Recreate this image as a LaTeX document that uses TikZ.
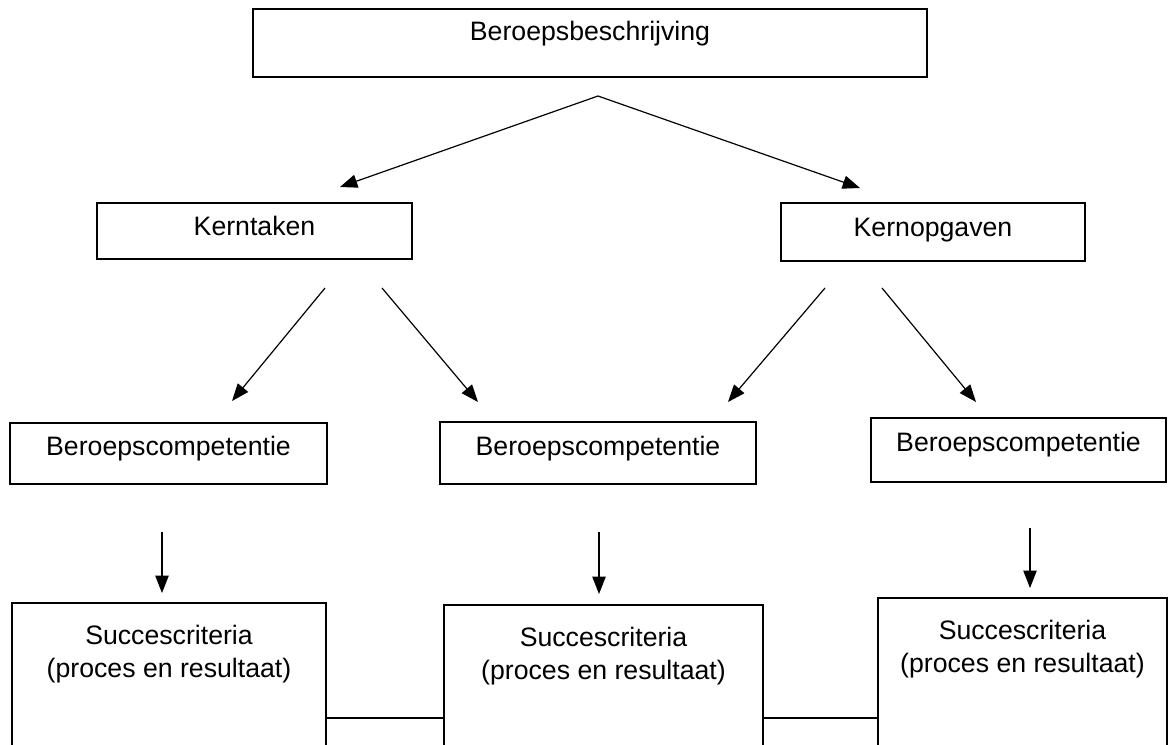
\documentclass[tikz,border=0pt]{standalone}
\usepackage{fontspec}
\setmainfont{Liberation Sans}
\usetikzlibrary{arrows.meta}

\begin{document}
\begin{tikzpicture}[x=0.75pt,y=-0.75pt,font=\fontsize{20}{25}\selectfont,line width=0.9pt,box/.style n args={2}{draw,line width=1.2pt,minimum width=#1*0.75pt,minimum height=#2*0.75pt,inner sep=0pt},txt/.style={anchor=base,inner sep=0pt,yshift=-#1*0.75pt},two/.style={anchor=north,inner sep=0pt,align=center,yshift=-#1*0.75pt},arr/.style={-{Triangle[length=13pt,width=10pt]}}]
    \useasboundingbox (0,0) rectangle (1176,744);
    \clip (0,0) rectangle (1176,744);
    \node[box={674}{68},label={[txt=32]north:Beroepsbeschrijving}] (beschrijving) at (590,43) {};
    \node[box={315}{56},label={[txt=33]north:Kerntaken}] (kerntaken) at (254.5,231) {};
    \node[box={304}{58},label={[txt=34]north:Kernopgaven}] (kernopgaven) at (933,232) {};
    \node[box={317}{61},label={[txt=33]north:Beroepscompetentie}] (comp1) at (168.5,453.5) {};
    \node[box={316}{62},label={[txt=34]north:Beroepscompetentie}] (comp2) at (598,453) {};
    \node[box={295}{64},label={[txt=34]north:Beroepscompetentie}] (comp3) at (1018.5,450) {};
    \node[box={314}{170},label={[two=22]north:{Succescriteria\\(proces en resultaat)}}] (succes1) at (169,688) {};
    \node[box={319}{170},label={[two=22]north:{Succescriteria\\(proces en resultaat)}}] (succes2) at (603.5,690) {};
    \node[box={289}{170},label={[two=22]north:{Succescriteria\\(proces en resultaat)}}] (succes3) at (1022.5,683) {};
    \coordinate (top) at (598,96);
    \coordinate (kt-in) at (340,187);
    \coordinate (ko-in) at (860,188);
    \coordinate (kt-l) at (325,288);
    \coordinate (kt-r) at (382,288);
    \coordinate (ko-l) at (825,288);
    \coordinate (ko-r) at (882,288);
    \coordinate (c1-in) at (232,401);
    \coordinate (c2a-in) at (478,402);
    \coordinate (c2b-in) at (728,402);
    \coordinate (c3-in) at (976,402);
    \coordinate (c1-out) at (162,532);
    \coordinate (c2-out) at (599,532);
    \coordinate (c3-out) at (1030,528);
    \coordinate (s1-in) at (162,593);
    \coordinate (s2-in) at (599,594);
    \coordinate (s3-in) at (1030,588);
    \foreach \a/\b in {top/kt-in,top/ko-in,kt-l/c1-in,kt-r/c2a-in,ko-l/c2b-in,ko-r/c3-in,c1-out/s1-in,c2-out/s2-in,c3-out/s3-in}
      \draw[arr] (\a) -- (\b);
    \draw (succes1.east |- 0,718) -- (succes2.west |- 0,718);
    \draw (succes2.east |- 0,718) -- (succes3.west |- 0,718);
\end{tikzpicture}
\end{document}
